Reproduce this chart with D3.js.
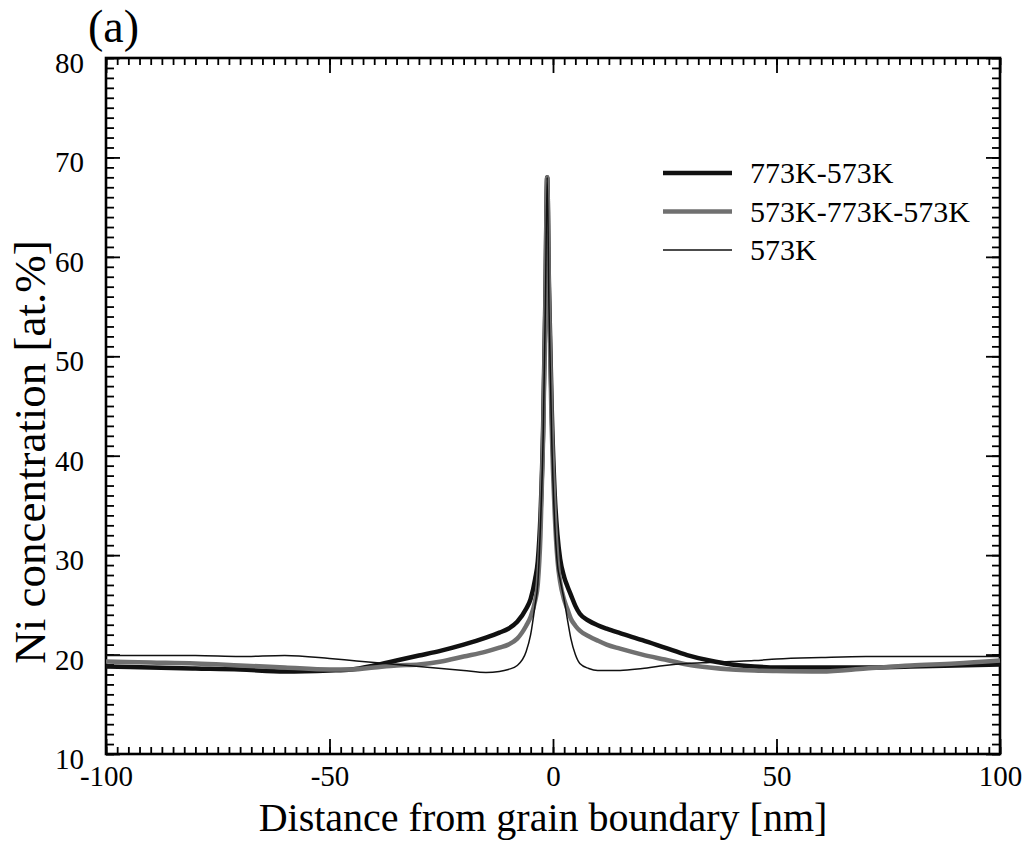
<!DOCTYPE html>
<html>
<head>
<meta charset="utf-8">
<script src="https://cdn.jsdelivr.net/npm/d3@7"></script>
<style>
  body { margin: 0; background: #fff; }
  svg { font-family: "Liberation Serif", "DejaVu Serif", serif; }
</style>
</head>
<body>
<svg id="drawing_region"></svg>
<script>
// distance from grain boundary [nm]
const distance = [-100,-90,-80,-70,-60,-50,-45,-40,-35,-30,-25,-20,-15,-12,-10,-8,-6,-5,-4,-3.4,-2.8,-2.2,-1.7,-1.3,-0.9,-0.3,0.4,1,1.6,2.5,3.2,4,5,6,8,10,12,15,20,25,30,35,40,45,50,60,70,80,90,100];

// Ni concentration [at.%]
const ni_773_573 = [18.8,18.7,18.6,18.5,18.3,18.4,18.5,18.9,19.4,19.9,20.4,21.0,21.7,22.2,22.6,23.3,24.6,25.6,27.6,29.4,34,43,56,68,57,45,36,32,29.6,27.8,26.9,26.0,24.9,24.1,23.4,22.95,22.6,22.15,21.45,20.7,19.95,19.4,19.0,18.8,18.7,18.7,18.7,18.8,18.9,19.0];
const ni_573_773_573 = [19.3,19.2,19.1,18.9,18.7,18.5,18.5,18.7,18.9,19.0,19.3,19.8,20.3,20.7,21.0,21.6,22.9,23.8,25.4,27.1,32,42,55,68,56,43,34,29.5,27.3,25.5,24.6,23.6,22.9,22.4,21.85,21.4,21.0,20.6,20.0,19.5,19.0,18.7,18.5,18.4,18.35,18.3,18.6,18.9,19.1,19.4];
const ni_573 = [19.9,19.9,19.9,19.8,19.9,19.6,19.4,19.2,19.0,18.8,18.6,18.4,18.2,18.3,18.5,18.9,20.3,22.0,25.0,27.1,33,42,55,68,55,42,33,29,27.5,25.5,23.6,21.6,20.0,19.1,18.6,18.4,18.4,18.4,18.6,18.9,19.1,19.2,19.3,19.4,19.55,19.7,19.8,19.8,19.8,19.8];

const seriesNames = ["773K-573K", "573K-773K-573K", "573K"];
const xMajorTicks = [-100, -50, 0, 50, 100];
const yMajorTicks = [10, 20, 30, 40, 50, 60, 70, 80];

const series = [
    { name: seriesNames[0], values: ni_773_573, color: "#111", width: 4.5 },
    { name: seriesNames[1], values: ni_573_773_573, color: "#707070", width: 4.5 },
    { name: seriesNames[2], values: ni_573, color: "#111", width: 1.5 }
];

const width = 1034, height = 843;
const margin = { top: 58, right: 34, bottom: 89, left: 106 };
const inner_width = width - margin.left - margin.right;
const inner_height = height - margin.top - margin.bottom;

const svg = d3.select('#drawing_region')
    .attr('width', width)
    .attr('height', height);

const chart = svg.append('g')
    .attr('transform', `translate(${margin.left}, ${margin.top})`);

const xscale = d3.scaleLinear().domain([-100, 100]).range([0, inner_width]);
const yscale = d3.scaleLinear().domain([10, 80]).range([inner_height, 0]);

// ticks on all four sides, pointing inward
const xMinor = d3.range(-100, 100.01, 2.5);
const yMinor = d3.range(10, 80.01, 1);

function styleAxis(g) {
    g.select('.domain').remove();
    g.selectAll('.tick line').attr('stroke', '#000').attr('stroke-width', 1.8);
}

chart.append('g')
    .attr('transform', `translate(0, ${inner_height})`)
    .call(d3.axisBottom(xscale).tickValues(xMinor).tickSize(-7).tickFormat(''))
    .call(styleAxis);
chart.append('g')
    .call(d3.axisTop(xscale).tickValues(xMinor).tickSize(-7).tickFormat(''))
    .call(styleAxis);
chart.append('g')
    .call(d3.axisLeft(yscale).tickValues(yMinor).tickSize(-8).tickFormat(''))
    .call(styleAxis);
chart.append('g')
    .attr('transform', `translate(${inner_width}, 0)`)
    .call(d3.axisRight(yscale).tickValues(yMinor).tickSize(-8).tickFormat(''))
    .call(styleAxis);

// major ticks with labels (plain hyphen for negatives, as in the figure)
const xaxis_group = chart.append('g')
    .attr('transform', `translate(0, ${inner_height})`)
    .call(d3.axisBottom(xscale).tickValues(xMajorTicks).tickSize(-15).tickPadding(11)
        .tickFormat(d => String(d)))
    .call(styleAxis);
xaxis_group.selectAll('text')
    .attr('fill', '#000')
    .attr('font-size', '29px')
    .attr('font-family', '"Liberation Serif", serif');

chart.append('g')
    .call(d3.axisTop(xscale).tickValues(xMajorTicks).tickSize(-15).tickFormat(''))
    .call(styleAxis);

const yaxis_group = chart.append('g')
    .call(d3.axisLeft(yscale).tickValues(yMajorTicks).tickSize(-14).tickPadding(22))
    .call(styleAxis);
yaxis_group.selectAll('text')
    .attr('fill', '#000')
    .attr('dy', '0.5em')
    .attr('font-size', '29px')
    .attr('font-family', '"Liberation Serif", serif');

chart.append('g')
    .attr('transform', `translate(${inner_width}, 0)`)
    .call(d3.axisRight(yscale).tickValues(yMajorTicks).tickSize(-14).tickFormat(''))
    .call(styleAxis);

// frame
chart.append('rect')
    .attr('width', inner_width)
    .attr('height', inner_height)
    .attr('fill', 'none')
    .attr('stroke', '#000')
    .attr('stroke-width', 2.6);

// curves
const line = d3.line()
    .x((d, i) => xscale(distance[i]))
    .y(d => yscale(d))
    .curve(d3.curveMonotoneX);

chart.selectAll('path.curve')
    .data(series)
    .enter()
    .append('path')
    .attr('class', 'curve')
    .attr('d', d => line(d.values))
    .attr('fill', 'none')
    .attr('stroke', d => d.color)
    .attr('stroke-width', d => d.width)
    .attr('stroke-linejoin', 'round');

// legend
const legend = svg.append('g')
    .attr('transform', 'translate(663, 173)');

const items = legend.selectAll('g')
    .data(series)
    .enter()
    .append('g')
    .attr('transform', (d, i) => `translate(0, ${i * 38.5})`);

items.append('line')
    .attr('x1', 0).attr('x2', 69)
    .attr('stroke', d => d.color)
    .attr('stroke-width', d => d.width);

items.append('text')
    .attr('x', 87)
    .attr('y', 10)
    .attr('font-size', '30px')
    .text(d => d.name);

// titles
svg.append('text')
    .attr('x', 88)
    .attr('y', 42)
    .attr('font-size', '46px')
    .text('(a)');

svg.append('text')
    .attr('x', 543)
    .attr('y', 831)
    .attr('text-anchor', 'middle')
    .attr('font-size', '40px')
    .text('Distance from grain boundary [nm]');

svg.append('text')
    .attr('transform', 'translate(45, 452) rotate(-90)')
    .attr('text-anchor', 'middle')
    .attr('font-size', '45px')
    .text('Ni concentration [at.%]');
</script>
</body>
</html>
